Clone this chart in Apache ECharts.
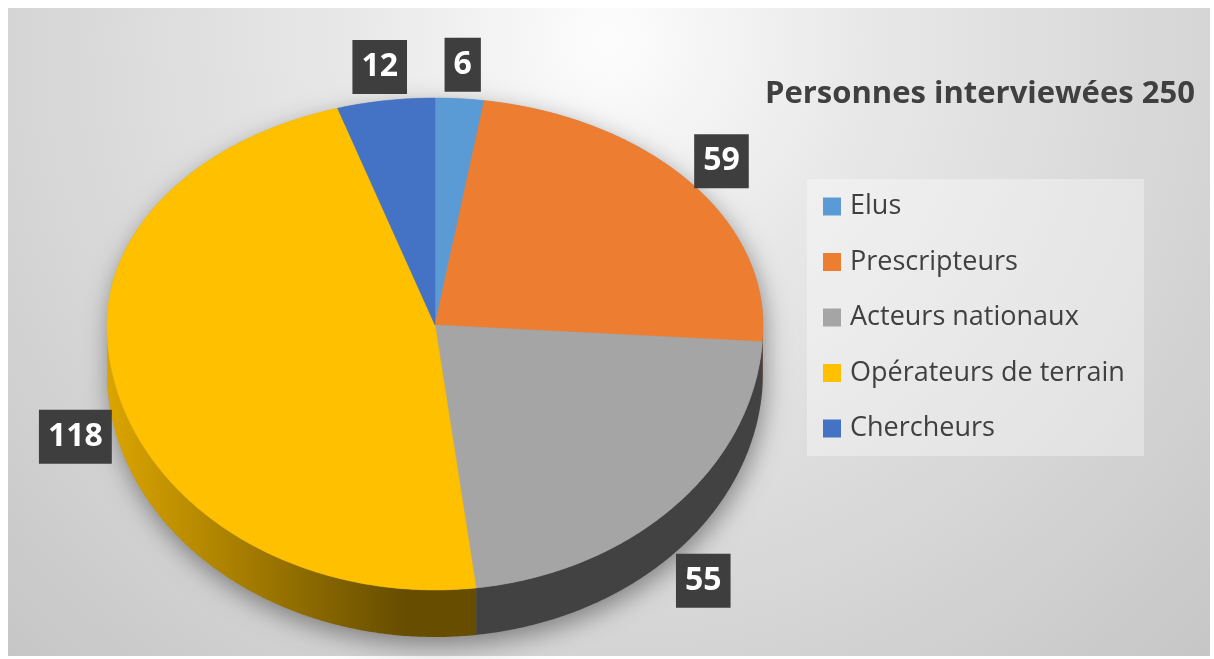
<!DOCTYPE html>
<html>
<head>
<meta charset="utf-8">
<script src="https://cdn.jsdelivr.net/npm/echarts@6/dist/echarts.min.js"></script>
<style>
  html, body { margin: 0; padding: 0; background: #fff; }
  #chart { width: 1214px; height: 659px; }
</style>
</head>
<body>
<div id="chart"></div>
<script>
const categories = ['Elus', 'Prescripteurs', 'Acteurs nationaux', 'Opérateurs de terrain', 'Chercheurs']
const counts = [6, 59, 55, 118, 12]
const colors = ['#5b9bd5', '#ed7d31', '#a5a5a5', '#ffc000', '#4472c4']
const titleText = 'Personnes interviewées 250'

// tilted pie geometry
const cx = 435, cy = 325, rx = 328, ryTop = 227, ryBot = 265, depth = 47

const total = counts.reduce((a, b) => a + b, 0)
const starts = counts.map((v, i) => counts.slice(0, i).reduce((a, b) => a + b, 0))

// angle in degrees, clockwise from 12 o'clock
function pt(deg, dy = 0, gx = 0, gTop = 0, gBot = 0) {
  const a = deg * Math.PI / 180
  const c = Math.cos(a)
  const ry = c >= 0 ? ryTop + gTop : ryBot + gBot
  return [cx + (rx + gx) * Math.sin(a), cy - ry * c + dy]
}
function arc(from, to, dy) {
  const pts = []
  const n = Math.max(2, Math.ceil(Math.abs(to - from) / 0.5))
  for (let k = 0; k <= n; k++) pts.push(pt(from + (to - from) * k / n, dy))
  return pts
}
function shade(hex, f) {
  const n = parseInt(hex.slice(1), 16)
  const r = Math.round((n >> 16 & 255) * f)
  const g = Math.round((n >> 8 & 255) * f)
  const b = Math.round((n & 255) * f)
  return 'rgb(' + r + ',' + g + ',' + b + ')'
}

function renderSlice(i) {
  return function (params, api) {
    const a0 = api.value(1) / total * 360
    const a1 = a0 + api.value(0) / total * 360
    const children = []
    // front wall
    const s = Math.max(a0, 90), e = Math.min(a1, 270)
    if (s < e) {
      children.push({
        type: 'polygon',
        shape: { points: arc(s, e, 0).concat(arc(e, s, depth)) },
        style: {
          fill: {
            type: 'linear', global: true, x: cx - rx, y: 0, x2: cx - 30, y2: 0,
            colorStops: [
              { offset: 0, color: shade(colors[i], 0.86) },
              { offset: 1, color: shade(colors[i], 0.4) }
            ]
          }
        },
        z2: 1
      })
    }
    // top face
    children.push({
      type: 'polygon',
      shape: { points: [[cx, cy]].concat(arc(a0, a1, 0)) },
      style: { fill: colors[i], stroke: colors[i], lineWidth: 0.5 },
      z2: 2
    })
    // value label
    const mid = (a0 + a1) / 2
    const front = Math.cos(mid * Math.PI / 180) < 0
    const p = pt(mid, front ? depth : 0, 40, 34, 40)
    children.push({
      type: 'text',
      x: p[0],
      y: p[1],
      style: {
        text: String(api.value(0)),
        fill: '#ffffff',
        font: 'bold 32px "Open Sans"',
        align: 'center',
        verticalAlign: 'middle',
        lineHeight: 34,
        backgroundColor: '#3e3e3e',
        padding: [10, 9, 10, 9],
        boxShadowBlur: 6,
        boxShadowColor: 'rgba(0,0,0,0.45)',
        boxShadowOffsetX: 3,
        boxShadowOffsetY: 3
      },
      z2: 100
    })
    return { type: 'group', children: children }
  }
}

const chart = echarts.init(document.getElementById('chart'))
chart.setOption({
  animation: false,
  title: {
    text: titleText,
    left: 765,
    top: 79,
    padding: 0,
    textStyle: { fontFamily: 'Open Sans', fontWeight: 'bold', fontSize: 31, color: '#404040' }
  },
  legend: {
    orient: 'vertical',
    left: 823,
    top: 193,
    padding: 0,
    itemWidth: 18,
    itemHeight: 18,
    itemGap: 28.5,
    icon: 'rect',
    data: categories,
    selectedMode: false,
    textStyle: { fontFamily: 'Open Sans', fontSize: 27, color: '#404040', padding: [0, 0, 0, 4] }
  },
  graphic: [
    {
      type: 'rect', z: -10,
      shape: { x: 8, y: 8, width: 1202, height: 648 },
      style: {
        fill: {
          type: 'radial', global: true, x: 609, y: 40, r: 860,
          colorStops: [
            { offset: 0, color: '#fdfdfd' },
            { offset: 0.3, color: '#e8e8e8' },
            { offset: 0.7, color: '#d5d5d5' },
            { offset: 1, color: '#c6c6c6' }
          ]
        }
      }
    },
    {
      type: 'rect', z: -5,
      shape: { x: 807, y: 179, width: 337, height: 277 },
      style: { fill: 'rgba(255,255,255,0.35)' }
    },
    {
      type: 'polygon', z: -5,
      shape: { points: arc(270, 450, 0).concat(arc(90, 270, depth)) },
      style: { fill: '#999', shadowBlur: 24, shadowColor: 'rgba(0,0,0,0.4)', shadowOffsetX: 2, shadowOffsetY: 8 }
    }
  ],
  series: categories.map((name, i) => ({
    type: 'custom',
    name: name,
    coordinateSystem: 'none',
    itemStyle: { color: colors[i] },
    data: [[counts[i], starts[i]]],
    renderItem: renderSlice(i)
  }))
})
</script>
</body>
</html>
